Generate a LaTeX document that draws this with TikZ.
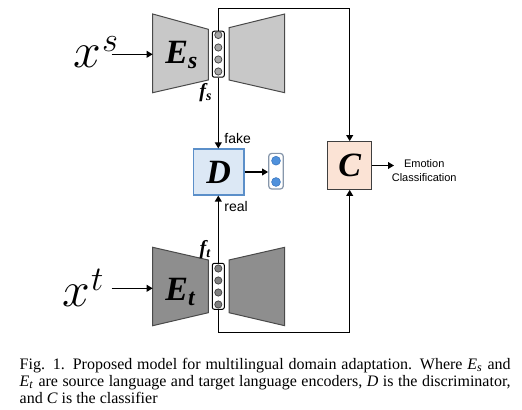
\documentclass[tikz,border=0pt]{standalone}
\usepackage{fontspec}
\setmainfont{Liberation Serif}
\setsansfont{Liberation Sans}
\usetikzlibrary{arrows.meta}
\definecolor{encS}{HTML}{C8C8C8}
\definecolor{encT}{HTML}{8E8E8E}
\definecolor{edgeG}{HTML}{4A4A4A}
\definecolor{dotS}{HTML}{A6A6A6}
\definecolor{dotT}{HTML}{808080}
\definecolor{dFill}{HTML}{DCE8F5}
\definecolor{dEdge}{HTML}{5B8FC9}
\definecolor{cFill}{HTML}{FBE3D5}
\definecolor{cEdge}{HTML}{3F3F3F}
\definecolor{oEdge}{HTML}{8797AB}
\definecolor{oDot}{HTML}{4F91DC}
\definecolor{oDotE}{HTML}{3C78C0}
\tikzset{
  conn/.style={line width=0.6pt, draw=black},
  arr/.style={conn, -{Triangle[length=3pt,width=3.4pt]}},
  trapS/.style={fill=encS, draw=edgeG, line width=0.5pt},
  trapT/.style={fill=encT, draw=edgeG, line width=0.5pt},
  featbox/.style={draw=black, fill=white, line width=0.5pt, rounded corners=1pt,
    minimum width=6pt, minimum height=23pt, inner sep=0pt},
  dotnode/.style={circle, draw=edgeG, line width=0.4pt, minimum size=3.6pt, inner sep=0pt},
  bigletter/.style={font=\fontsize{17}{17}\selectfont\bfseries\itshape, inner sep=0pt},
  flabel/.style={font=\fontsize{10}{10}\selectfont\bfseries\itshape, inner sep=0pt},
  smalllab/.style={font=\sffamily\fontsize{7}{7}\selectfont, inner sep=0pt},
}
\begin{document}
\begin{tikzpicture}[x=0.5pt,y=-0.5pt]
\useasboundingbox (0,0) rectangle (522,410);
\fill[white] (0,0) rectangle (522,410);

% encoders / decoders
\draw[trapS] (152.7,14) -- (208.3,29.3) -- (208.3,80) -- (152.7,92.7) -- cycle;
\draw[trapS] (229,27.7) -- (284.7,14) -- (284.7,92.7) -- (229,80) -- cycle;
\draw[trapT] (152.7,247.3) -- (208.3,260) -- (208.3,312.7) -- (152.7,325.7) -- cycle;
\draw[trapT] (229,260) -- (284.7,247.3) -- (284.7,325.7) -- (229,312.7) -- cycle;

\node[bigletter, anchor=base west] (Es) at (165,63.3) {E\textsubscript{s}};
\node[bigletter, anchor=base west] (Et) at (165,300) {E\textsubscript{t}};

\coordinate (EsIn) at (152.7,54.3);
\coordinate (EtIn) at (152.7,288.3);

% inputs
\node[anchor=base west, inner sep=0pt] (xs) at (73,68)
  {\fontsize{23}{23}\selectfont$x$\hspace{0.5pt}\raisebox{8pt}{\fontsize{18}{18}\selectfont$s$}};
\node[anchor=base west, inner sep=0pt] (xt) at (62,306.7)
  {\fontsize{23}{23}\selectfont$x$\hspace{0.5pt}\raisebox{8pt}{\fontsize{18}{18}\selectfont$t$}};
\coordinate (xsOut) at (111.7,54.3);
\coordinate (xtOut) at (111.7,288.3);
\draw[arr] (xsOut) -- (EsIn);
\draw[arr] (xtOut) -- (EtIn);

% feature vectors
\node[featbox] (fs) at (218.3,54.2) {};
\foreach \yy/\nm in {35/a,47.5/b,59.5/c,71.5/d}
  \node[dotnode, fill=dotS] (fs\nm) at (218.3,\yy) {};
\node[featbox] (ft) at (218.3,286.3) {};
\foreach \yy/\nm in {268.5/a,280.5/b,292.5/c,304.5/d}
  \node[dotnode, fill=dotT] (ft\nm) at (218.3,\yy) {};

\node[flabel] (fsl) at (206,93) {f\textsubscript{s}};
\node[flabel] (ftl) at (205.5,249.5) {f\textsubscript{t}};

% discriminator
\node[draw=dEdge, fill=dFill, line width=0.6pt, minimum width=25.3pt, minimum height=23pt,
  inner sep=0pt, font=\fontsize{17}{17}\selectfont\bfseries\itshape] (D) at (218.7,172) {D};
\node[draw=oEdge, fill=white, line width=0.6pt, rounded corners=1.5pt, minimum width=7.3pt,
  minimum height=17.8pt, inner sep=0pt] (out) at (276,171.2) {};
\node[circle, fill=oDot, draw=oDotE, line width=0.3pt, minimum size=4.4pt, inner sep=0pt] (o1) at (276,160.7) {};
\node[circle, fill=oDot, draw=oDotE, line width=0.3pt, minimum size=4.4pt, inner sep=0pt] (o2) at (276,182) {};

% classifier
\node[draw=cEdge, fill=cFill, line width=0.6pt, minimum width=22pt, minimum height=23.8pt,
  inner sep=0pt, font=\fontsize{17}{17}\selectfont\bfseries\itshape] (C) at (349.7,165.5) {C};
\node[align=center, inner sep=0pt, font=\sffamily\fontsize{5.5}{7}\selectfont] (emo) at (424.2,170.3)
  {Emotion\\Classification};
\coordinate (emoIn) at (394,165.5);

% connectors
\coordinate (topc) at (349.7,8.3);
\coordinate (botc) at (349.7,332.3);
\draw[arr] (fs.north) |- (topc) -- (C.north);
\draw[arr] (ft.south) |- (botc) -- (C.south);
\draw[arr] (fs.south) -- (fs.south |- D.north);
\draw[arr] (ft.north) -- (ft.north |- D.south);
\draw[arr] (D.east) -- (D.east -| out.west);
\draw[arr] (C.east) -- (emoIn);

\node[smalllab, anchor=west] (fake) at (224,138) {fake};
\node[smalllab, anchor=west] (real) at (224,206) {real};

% caption
\node[anchor=north west, inner sep=0pt, text width=245.5pt, align=justify,
  font=\fontsize{8}{8.5}\selectfont] (cap) at (19.3,358)
  {Fig. 1.\enspace Proposed model for multilingual domain adaptation. Where \textit{E}\textsubscript{\textit{s}} and\linebreak
   \textit{E}\textsubscript{\textit{t}} are source language and target language encoders, \textit{D} is the discriminator,\linebreak
   and \textit{C} is the classifier\hfill\null};
\end{tikzpicture}
\end{document}
